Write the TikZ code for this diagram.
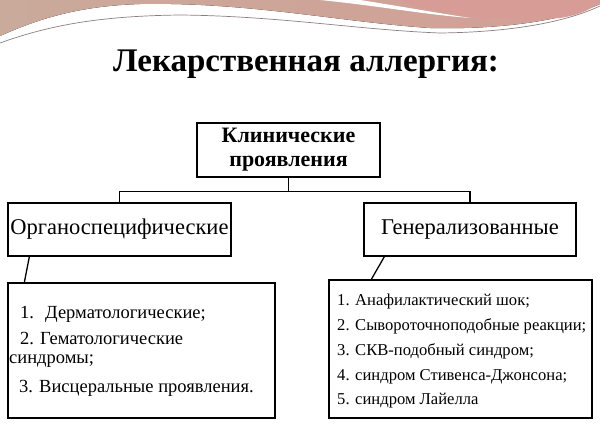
\documentclass[tikz,border=0pt]{standalone}
\usepackage{fontspec}
\setmainfont{Liberation Serif}
\usetikzlibrary{positioning,calc}
\definecolor{swooshtan}{HTML}{C9AA9B}
\definecolor{swooshpink}{HTML}{D69C95}
\definecolor{swooshline}{HTML}{8A7F80}
\begin{document}
\begin{tikzpicture}[x=1pt, y=-1pt,
    box/.style={draw, line width=1.3pt, inner sep=0pt},
    listtxt/.style={anchor=base west, inner sep=0pt, font=\fontsize{18.5}{21}\selectfont},
    gentxt/.style={anchor=base west, inner sep=0pt, font=\fontsize{16.6}{19}\selectfont}]
  \useasboundingbox (0,0) rectangle (600,428);
  % decoration at the top
  \fill[left color=swooshtan, right color=swooshpink!80!swooshtan]
    (0,0) -- (0,36) .. controls (40,18) and (80,6) .. (140,4)
    .. controls (250,2) and (340,22) .. (430,28)
    .. controls (510,30) and (570,18) .. (600,4) -- (600,0) -- cycle;
  \fill[swooshpink] (400,0) .. controls (430,14) and (500,22) .. (560,18)
    .. controls (580,15) and (595,8) .. (600,0) -- cycle;
  \fill[white] (320,0) .. controls (380,6) and (420,14) .. (470,18)
    .. controls (420,10) and (380,3) .. (360,0) -- cycle;
  \draw[swooshline, line width=0.7pt] (0,43) .. controls (50,25) and (100,16) .. (180,15)
    .. controls (280,16) and (360,30) .. (440,33)
    .. controls (520,32) and (570,20) .. (600,6);

  \node[font=\bfseries\fontsize{33}{36}\selectfont] (title) at (306,64) {Лекарственная аллергия:};

  \node[box, minimum width=183pt, minimum height=54pt, align=center,
        font=\bfseries\fontsize{22}{24}\selectfont] (clin) at (288.5,150) {Клинические\\проявления};
  \node[box, minimum width=223pt, minimum height=53pt,
        font=\fontsize{22.5}{25}\selectfont] (organ) at (119.5,229.5) {Органоспецифические};
  \node[box, minimum width=212pt, minimum height=53pt,
        font=\fontsize{22.5}{25}\selectfont] (gener) at (470,229.5) {Генерализованные};

  \node[box, minimum width=267pt, minimum height=135pt] (orglist) at (141.5,350.5) {};
  \node[box, minimum width=263pt, minimum height=138pt] (genlist) at (460.5,349) {};

  \draw[line width=1.3pt] (clin.south) -- ++(0,14) -| (organ.north);
  \draw[line width=1.3pt] (clin.south) -- ++(0,14) -| (gener.north);
  \draw[line width=1.3pt] ([xshift=22pt]organ.south west) -- ([xshift=17pt]orglist.north west);
  \draw[line width=1.3pt] ([xshift=21pt]gener.south west) -- ([xshift=43pt]genlist.north west);

  % organ-specific list
  \node[listtxt] (o1) at (20,318) {1.\hspace{0.6em}Дерматологические;};
  \node[listtxt] (o2) at (20,344) {2. Гематологические};
  \node[listtxt] (o3) at (9,363) {синдромы;};
  \node[listtxt] (o4) at (19,392) {3. Висцеральные проявления.};

  % generalized list
  \foreach \y/\lab/\txt in {305/1/{1. Анафилактический шок;},
                            330/2/{2. Сывороточноподобные реакции;},
                            355/3/{3. СКВ-подобный синдром;},
                            380/4/{4. синдром Стивенса-Джонсона;},
                            404/5/{5. синдром Лайелла}} {
    \node[gentxt] (g\lab) at (337,\y) {\txt};
  }
\end{tikzpicture}
\end{document}
